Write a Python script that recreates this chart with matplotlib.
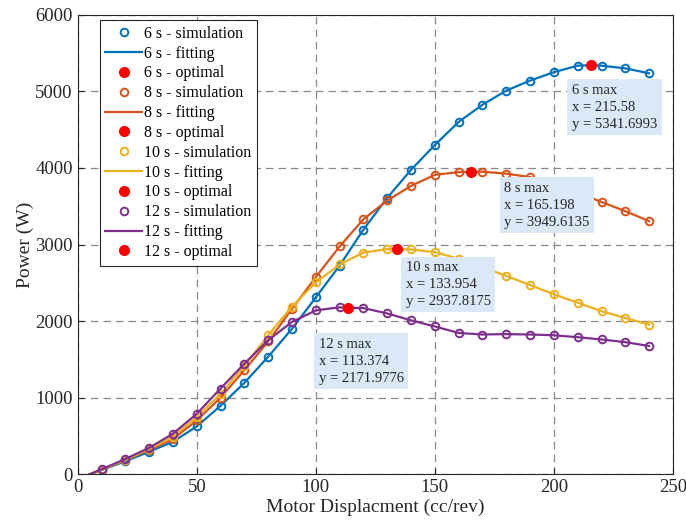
import matplotlib.pyplot as plt

plt.rcParams['font.family'] = ['Liberation Serif', 'DejaVu Serif']
plt.rcParams['mathtext.fontset'] = 'stix'

x_sim = [10, 20, 30, 40, 50, 60, 70, 80, 90, 100, 110, 120,
         130, 140, 150, 160, 170, 180, 190, 200, 210, 220, 230, 240]

p6 = [55, 170, 295, 425, 625, 895, 1195, 1535, 1900, 2310, 2725, 3195,
      3610, 3975, 4300, 4600, 4825, 5010, 5140, 5250, 5335, 5335, 5300, 5235]
p8 = [60, 185, 320, 460, 705, 1000, 1360, 1735, 2160, 2575, 2975, 3330,
      3575, 3765, 3910, 3945, 3950, 3925, 3880, 3790, 3680, 3555, 3435, 3305]
p10 = [60, 190, 330, 490, 750, 1050, 1415, 1815, 2190, 2505, 2740, 2895,
       2940, 2935, 2900, 2815, 2705, 2590, 2470, 2350, 2240, 2130, 2040, 1955]
p12 = [65, 200, 345, 530, 790, 1120, 1445, 1750, 1990, 2140, 2180, 2170,
       2100, 2010, 1930, 1845, 1825, 1830, 1825, 1815, 1790, 1760, 1725, 1675]

# fitted curves start at 5 cc/rev with zero power
x_start = 5
p_start = 0

labels = ['6 s', '8 s', '10 s', '12 s']
opt_x = [215.58, 165.198, 133.954, 113.374]
opt_y = [5341.6993, 3949.6135, 2937.8175, 2171.9776]
colors = ['#0072BD', '#D95319', '#EDB120', '#7E2F8E']

# annotation box anchors (left, top) in data units
box_pos = [(207.5, 5100), (179.2, 3820), (137.8, 2785), (101.2, 1785)]

fig = plt.figure(figsize=(6.86, 5.26), dpi=100)
ax = fig.add_axes([0.1133, 0.0983, 0.8677, 0.8737])

series = [p6, p8, p10, p12]
for i, p in enumerate(series):
    # merge the optimum into the fitted line so the curve passes through it
    pts = sorted(zip([x_start] + x_sim + [opt_x[i]], [p_start] + p + [opt_y[i]]))
    fx = [a for a, b in pts]
    fy = [b for a, b in pts]
    ax.plot(x_sim, p, 'o', mfc='none', mec=colors[i], ms=5.5, mew=1.4,
            label=labels[i] + ' - simulation')
    ax.plot(fx, fy, '-', color=colors[i], lw=1.6, label=labels[i] + ' - fitting')
    ax.plot(opt_x[i], opt_y[i], 'o', color='red', ms=7, zorder=5,
            label=labels[i] + ' - optimal')

for i in range(4):
    txt = '%s max\nx = %s\ny = %s' % (labels[i], format(opt_x[i], 'g'), '%.4f' % opt_y[i])
    ax.text(box_pos[i][0], box_pos[i][1], txt, ha='left', va='top', fontsize=10.5,
            color='#262626', linespacing=1.4, zorder=6,
            bbox=dict(facecolor='#dae8f8', edgecolor='none', boxstyle='square,pad=0.3'))

ax.set_xlim(0, 250)
ax.set_ylim(0, 6000)
ax.set_xticks([0, 50, 100, 150, 200, 250])
ax.set_yticks([0, 1000, 2000, 3000, 4000, 5000, 6000])
ax.grid(True, linestyle=(0, (6, 4)), color='#8a8a8a', linewidth=0.9)
ax.tick_params(direction='in', labelsize=13.5, colors='#262626', length=4)
for s in ax.spines.values():
    s.set_color('#262626')
    s.set_linewidth(0.8)

ax.set_xlabel('Motor Displacment (cc/rev)', fontsize=14, color='#262626', labelpad=2)
ax.set_ylabel('Power (W)', fontsize=14, color='#262626', labelpad=1)

leg = ax.legend(loc='upper left', bbox_to_anchor=(0.037, 0.988), fontsize=11.5,
                fancybox=False, edgecolor='#262626', framealpha=1,
                handlelength=2.3, handletextpad=0.1, labelspacing=0.24,
                borderpad=0.35, borderaxespad=0)
leg.get_frame().set_linewidth(0.8)

fig.savefig('out.png', dpi=100)
